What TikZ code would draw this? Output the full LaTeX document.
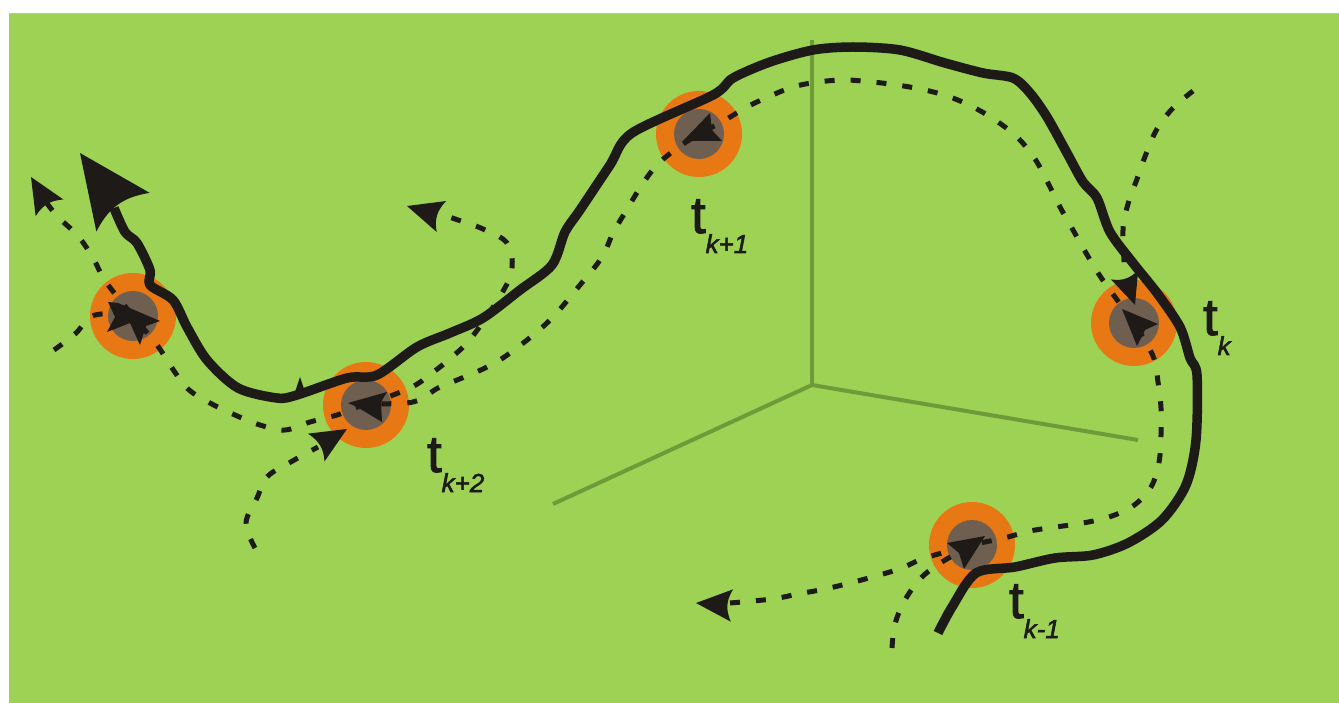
\documentclass[tikz,border=0pt]{standalone}
\usepackage{fontspec}
\setmainfont{Liberation Sans}
\newfontfamily\labelfont[FakeBold=2]{Liberation Sans}
\definecolor{fieldgreen}{HTML}{9DD254}
\definecolor{axisgreen}{HTML}{6F9A3A}
\definecolor{discorange}{HTML}{E87813}
\definecolor{hubgray}{HTML}{6E5F50}
\definecolor{ink}{HTML}{1D1A17}
\newcommand{\timelabel}[1]{\labelfont{\fontsize{52}{52}\selectfont t}\raisebox{-20pt}{\fontsize{26}{26}\selectfont\itshape #1}}
\tikzset{
  disc/.style={circle, fill=discorange, inner sep=0pt, minimum size=86pt},
  hub/.style={circle, fill=hubgray, inner sep=0pt, minimum size=50pt},
  axisline/.style={draw=axisgreen, line width=4pt},
  track/.style={draw=ink, line width=9.5pt, line join=round},
  guess/.style={draw=ink, line width=5pt, dash pattern=on 10pt off 16pt},
  timetext/.style={inner sep=0pt, anchor=base west, text=ink},
  dart/.pic={\fill[ink] (0,0) -- (-40,-18) .. controls (-36,-10) and (-35,-5) .. (-35,0) .. controls (-35,5) and (-36,10) .. (-40,18) -- cycle;}
}
\begin{document}
\begin{tikzpicture}[x=1pt, y=-1pt]
\useasboundingbox (0,0) rectangle (1339,703);
\fill[white] (0,0) rectangle (1339,703);
\fill[fieldgreen] (9,14) rectangle (1339,703);
\draw[black!25, line width=1pt] (9,13.5) -- (1339,13.5);
\coordinate (origin) at (812,385);
\coordinate (axisz) at (812,40);
\coordinate (axisx) at (553,504);
\coordinate (axisy) at (1138,440);
\draw[axisline] (origin) -- (axisz);
\draw[axisline] (origin) -- (axisx);
\draw[axisline] (origin) -- (axisy);
\node[disc] (dprev) at (972,545) {};
\node[disc] (dk) at (1134,323) {};
\node[disc] (dnext) at (699,134) {};
\node[disc] (dnextb) at (366,405) {};
\node[disc] (dlast) at (133,316) {};
\node[hub] (hprev) at (dprev) {};
\node[hub] (hk) at (dk) {};
\node[hub] (hnext) at (dnext) {};
\node[hub] (hnextb) at (dnextb) {};
\node[hub] (hlast) at (dlast) {};
\draw[guess] plot[smooth, tension=0.6] coordinates {(730,603) (772,599) (798,594) (825,589) (850,583) (876,576) (902,568) (925,558) (dprev.center) (1004,538) (1030,531) (1056,527) (1083,523) (1109,517) (1133,506) (1151,487) (1159,462) (1161,435) (1161,408) (1158,382) (1153,356) (dk.center)};
\draw[guess] plot[smooth, tension=0.6] coordinates {(dk.center) (1115,297) (1100,276) (1086,253) (1073,230) (1060,207) (1048,183) (1035,159) (1018,138) (998,122) (975,108) (950,97) (925,90) (897,85) (872,82) (845,80) (818,82) (793,87) (768,97) (745,108) (722,122) (dnext.center) (676,149) (656,166) (640,188) (626,211) (613,233) (602,257) (580,285) (548,322) (510,353) (487,367) (462,378) (438,388) (413,402) (dnextb.center) (337,415) (310,422) (285,430) (260,425) (235,415) (210,403) (188,389) (172,368) (157,345) (dlast.center) (106,282) (93,258) (78,236) (58,217) (46,202)};
\draw[guess] plot[smooth, tension=0.6] coordinates {(1193,91) (1173,108) (1157,129) (1146,154) (1137,179) (1128,204) (1123,230) (1125,276)};
\draw[guess] plot[smooth, tension=0.6] coordinates {(54,350) (75,334) (95,315) (dlast.center)};
\draw[guess] plot[smooth, tension=0.6] coordinates {(255,548) (246,523) (257,498) (267,477) (289,463) (318,447)};
\draw[guess] plot[smooth, tension=0.6] coordinates {(dnextb.center) (410,388) (432,373) (452,357) (472,337) (502,293) (512,268) (507,243) (483,229) (458,220) (440,214)};
\draw[guess] plot[smooth, tension=0.6] coordinates {(892,648) (895,624) (905,600) (921,578) (942,562) (dprev.center)};
\pic[rotate=121, scale=.9] at (31,177) {dart};
\pic[rotate=163, scale=.9] at (407,206) {dart};
\pic[rotate=31, scale=.9] at (347,429) {dart};
\pic[rotate=-71, scale=.8] at (1135,305) {dart};
\pic[rotate=176, scale=.9] at (696,603) {dart};
\fill[ink] (108,302) -- (118,303) -- (160,321) -- (146,326) -- (140,345) -- (130,323) -- (107,332) -- (115,317) -- cycle;
\fill[ink] (348,403) -- (387,392) -- (381,402) -- (382,422) -- (357,407) -- cycle;
\fill[ink] (683,141) -- (710,113) -- (712,130) -- (722,141) -- cycle;
\fill[ink] (1122,309) -- (1158,324) -- (1145,330) -- (1137,346) -- cycle;
\fill[ink] (947,543) -- (985,536) -- (964,569) -- (959,553) -- cycle;
\fill[ink] (295,392) -- (300,377) -- (305,392) -- cycle;
\draw[track] plot[smooth, tension=0.5] coordinates {(938,633) (952,607) (976,573) (1015,567) (1055,558) (1093,555) (1128,543) (1162,520) (1186,485) (1196,440) (1197,375) (1190,358) (1180,327) (1157,293) (1133,263) (1110,232) (1097,198) (1083,182) (1067,153) (1047,117) (1030,93) (1013,78) (983,73) (945,63) (900,50) (853,47) (813,50) (770,62) (733,78) (713,95) (632,133) (610,165) (580,210) (565,232) (552,265) (520,290) (483,318) (450,333) (417,347) (377,375) (347,378) (297,395) (277,398) (238,388) (207,360) (187,327) (173,300) (150,285) (150,270) (137,243) (125,232) (114,208)};
\pic[rotate=126, scale=1.83] at (80,153) {dart};
\node[timetext] (tprev) at (1009,618) {\timelabel{k-1}};
\node[timetext] (tcur) at (1203,335) {\timelabel{k}};
\node[timetext] (tnext) at (691,233) {\timelabel{k+1}};
\node[timetext] (tnextb) at (427,472) {\timelabel{k+2}};
\end{tikzpicture}
\end{document}
